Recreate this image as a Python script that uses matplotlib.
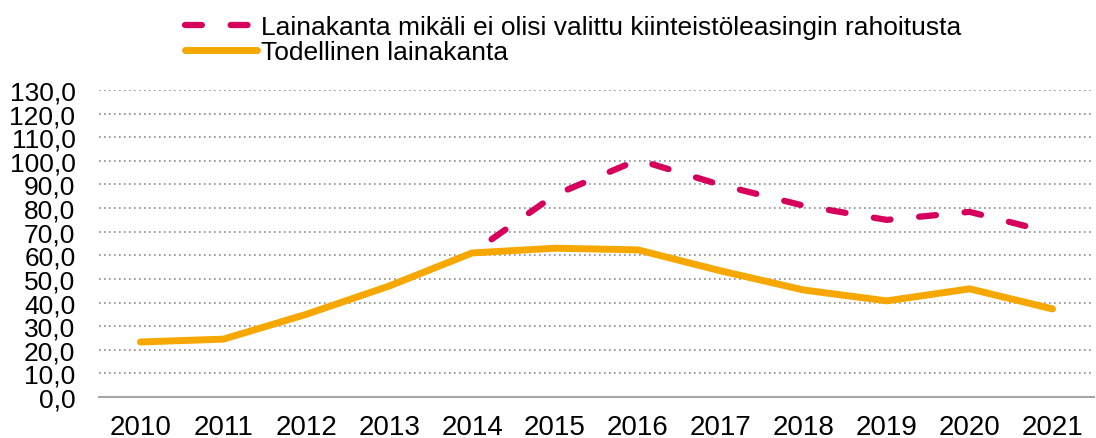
import matplotlib
matplotlib.use("Agg")
import matplotlib.pyplot as plt
from matplotlib.lines import Line2D
import numpy as np

years = ["2010", "2011", "2012", "2013", "2014", "2015", "2016", "2017", "2018", "2019", "2020", "2021"]
todellinen = [23.3, 24.5, 35.0, 47.0, 61.0, 63.0, 62.3, 53.4, 45.3, 40.7, 45.8, 37.3]
ilman_leasing = [None, None, None, None, 61.0, 85.6, 100.4, 89.8, 81.0, 75.0, 78.4, 69.5]

label_dash = "Lainakanta mikäli ei olisi valittu kiinteistöleasingin rahoitusta"
label_solid = "Todellinen lainakanta"

magenta = "#D6005C"
orange = "#F7A800"

plt.rcParams['font.family'] = ['Liberation Sans', 'DejaVu Sans']

fig = plt.figure(figsize=[10.96, 4.39], dpi=100)
ax = fig.add_axes([99 / 1096, 1 - 398 / 439, 995 / 1096, 307 / 439])

x = np.arange(len(years))
dash_y = np.array([np.nan if v is None else v for v in ilman_leasing], dtype=float)

ax.plot(x, dash_y, color=magenta, lw=4.5, linestyle=(3.5, (2.7, 4.6)),
        dash_capstyle="round", zorder=3)
ax.plot(x, todellinen, color=orange, lw=5, solid_capstyle="round", zorder=4)

ax.set_xlim(-0.5, 11.5)
ax.set_ylim(0, 130)
ax.set_yticks(np.arange(0, 131, 10))
ax.set_yticklabels([f"{v:.1f}".replace(".", ",") for v in np.arange(0, 131, 10)])
ax.set_xticks(x)
ax.set_xticklabels(years)
ax.tick_params(axis="both", length=0, colors="black")
ax.tick_params(axis="x", pad=12, labelsize=20)
ax.tick_params(axis="y", pad=17, labelsize=19)

ax.yaxis.grid(True, color="#8a8a8a", linestyle=(0, (1, 2)), lw=1.2)
ax.set_axisbelow(True)
for side in ["top", "right", "left"]:
    ax.spines[side].set_visible(False)
ax.spines["bottom"].set_color("#a6a6a6")
ax.spines["bottom"].set_linewidth(1.5)

handles = [
    Line2D([], [], color=magenta, lw=4.5, linestyle=(0, (2.7, 4.6)), dash_capstyle="round"),
    Line2D([], [], color=orange, lw=5, solid_capstyle="round"),
]
fig.legend(handles, [label_dash, label_solid], loc="upper left",
           bbox_to_anchor=(169 / 1096, 1.0), frameon=False,
           fontsize=19, handlelength=2.75, handletextpad=0.15, labelspacing=0.05,
           borderaxespad=0.2)

fig.savefig("out.png", dpi=100)
